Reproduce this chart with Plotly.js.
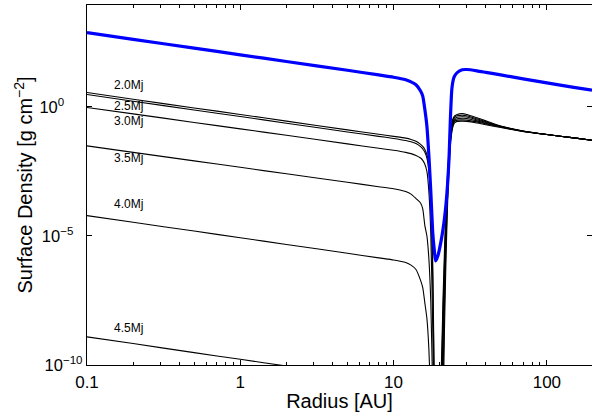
<!DOCTYPE html>
<html>
<head>
<meta charset="utf-8">
<script src="https://cdn.plot.ly/plotly-3.0.1.min.js"></script>
<style>html,body{margin:0;padding:0;background:#fff;}</style>
</head>
<body>
<div id="chart" style="width:592px;height:412px;"></div>
<script>
// Radius grid [AU]
const radius = [0.1, 0.2, 0.5, 1, 2, 5, 8, 10, 12, 13, 14, 15, 15.5, 16, 16.5, 17, 17.5, 18, 18.4, 18.8, 19.5, 20.4, 21, 21.5, 22, 22.5, 23, 23.5, 24, 24.5, 25, 26, 28, 30, 35, 40, 50, 70, 100, 150, 197];

// log10 of surface density [g cm^-2]
const logSigmaInitial = [2.88, 2.62, 2.28, 2.02, 1.76, 1.42, 1.24, 1.15, 1.05, 0.97, 0.86, 0.62, 0.42, -0.1, -0.75, -1.9, -3.3, -4.85, -5.5, -5.97, -5.75, -5.2, -4.75, -4.3, -3.75, -3.0, -2.0, -0.4, 0.7, 1.05, 1.2, 1.33, 1.44, 1.45, 1.40, 1.34, 1.24, 1.09, 0.93, 0.76, 0.65];
const logSigma2p0 = [0.56, 0.30, -0.04, -0.29, -0.55, -0.89, -1.06, -1.14, -1.21, -1.26, -1.33, -1.45, -1.53, -1.65, -1.85, -2.3, -3.4, -6.0, -10.3, -13, -13, -10.5, -7.5, -5.5, -3.8, -2.6, -1.6, -0.95, -0.6, -0.43, -0.35, -0.29, -0.26, -0.29, -0.42, -0.54, -0.74, -0.93, -1.07, -1.20, -1.29];
const logSigma2p5 = [0.48, 0.22, -0.12, -0.37, -0.63, -0.97, -1.14, -1.22, -1.30, -1.35, -1.42, -1.54, -1.63, -1.76, -1.98, -2.5, -3.7, -6.5, -10.8, -13, -13, -11, -8, -6, -4.1, -2.8, -1.75, -1.05, -0.67, -0.49, -0.4, -0.34, -0.32, -0.34, -0.46, -0.57, -0.75, -0.93, -1.07, -1.20, -1.29];
const logSigma3p0 = [-0.02, -0.27, -0.60, -0.85, -1.10, -1.43, -1.60, -1.68, -1.76, -1.81, -1.88, -1.98, -2.07, -2.22, -2.5, -3.3, -5.0, -8.5, -12, -13, -13, -12, -8.7, -6.4, -4.4, -3.0, -1.9, -1.15, -0.75, -0.55, -0.46, -0.4, -0.38, -0.39, -0.5, -0.6, -0.76, -0.94, -1.07, -1.20, -1.29];
const logSigma3p5 = [-1.51, -1.76, -2.09, -2.34, -2.59, -2.92, -3.09, -3.17, -3.28, -3.38, -3.55, -3.72, -3.95, -4.6, -5.0, -5.9, -7.6, -11, -13, -13, -13, -12.5, -9.3, -6.8, -4.7, -3.2, -2.0, -1.25, -0.82, -0.6, -0.51, -0.46, -0.44, -0.45, -0.54, -0.63, -0.77, -0.94, -1.07, -1.20, -1.29];
const logSigma4p0 = [-4.21, -4.47, -4.81, -5.07, -5.33, -5.67, -5.85, -5.93, -6.03, -6.13, -6.3, -6.72, -7.0, -7.6, -8.2, -9.4, -11.5, -13, -13, -13, -13, -13, -10.5, -7.6, -5.2, -3.5, -2.2, -1.35, -0.9, -0.66, -0.56, -0.51, -0.5, -0.51, -0.58, -0.66, -0.78, -0.95, -1.07, -1.20, -1.29];
const logSigma4p5 = [-8.91, -9.17, -9.52, -9.78, -10.04, -10.38, -10.6, -10.7, -10.8, -10.9, -11.0, -11.4, -11.7, -12.2, -12.8, -13.5, -14, -14, -14, -14, -14, -14, -12, -8.5, -5.8, -3.8, -2.4, -1.45, -0.97, -0.72, -0.62, -0.56, -0.55, -0.56, -0.62, -0.69, -0.8, -0.95, -1.07, -1.20, -1.29];

const massLabels = ["2.0Mj", "2.5Mj", "3.0Mj", "3.5Mj", "4.0Mj", "4.5Mj"];
const xTickVals = [0.1, 1, 10, 100];
const xTickText = ["0.1", "1", "10", "100"];
const yTickVals = [1e-10, 1e-5, 1];
const yTickText = ["10<sup>\u221210</sup>", "10<sup>\u22125</sup>\u00A0\u00A0", "10<sup>0</sup>\u00A0\u00A0\u00A0\u00A0"];

const pow = a => a.map(v => Math.pow(10, v));
const blackSeries = [logSigma2p0, logSigma2p5, logSigma3p0, logSigma3p5, logSigma4p0, logSigma4p5];

const traces = blackSeries.map((s, i) => ({
  x: radius, y: pow(s), type: 'scatter', mode: 'lines',
  name: massLabels[i], line: {color: '#000000', width: 1.1, shape: 'spline', smoothing: 0.6},
  hoverinfo: 'skip'
}));
traces.push({
  x: radius, y: pow(logSigmaInitial), type: 'scatter', mode: 'lines',
  name: 'initial', line: {color: '#0000ff', width: 3.2, shape: 'spline', smoothing: 0.6},
  hoverinfo: 'skip'
});

// label positions (log10 coordinates)
const labelY = [0.84, 0.04, -0.54, -1.99, -3.77, -8.58];
const annotations = massLabels.map((t, i) => ({
  x: Math.log10(0.146), y: labelY[i], xref: 'x', yref: 'y',
  text: t, showarrow: false, xanchor: 'left', yanchor: 'middle',
  font: {family: 'Liberation Sans, Arial, sans-serif', size: 12, color: '#000'}
}));

// minor x ticks
const minorX = [];
[0.1, 1, 10, 100].forEach(d => { for (let k = 2; k <= 9; k++) { const v = d * k; if (v <= 197) minorX.push(v); } });

const layout = {
  width: 592, height: 412,
  margin: {l: 87, r: 0, t: 5, b: 47, pad: 0},
  paper_bgcolor: '#fff', plot_bgcolor: '#fff',
  showlegend: false,
  font: {family: 'Liberation Sans, Arial, sans-serif', color: '#000', size: 17},
  xaxis: {
    type: 'log', range: [-1, Math.log10(197)],
    tickmode: 'array', tickvals: xTickVals, ticktext: xTickText,
    ticks: 'inside', ticklen: 5, tickwidth: 1, tickcolor: '#000',
    minor: {tickmode: 'array', tickvals: minorX, ticks: 'inside', ticklen: 3, tickwidth: 1, tickcolor: '#000', showgrid: false},
    showline: true, linecolor: '#000', linewidth: 1.2, mirror: 'ticks',
    showgrid: false, zeroline: false,
    tickfont: {size: 17}, ticklabelstandoff: 1,
    title: {text: 'Radius [AU]', font: {size: 20}, standoff: 1}
  },
  yaxis: {
    type: 'log', range: [-10, 3.95],
    tickmode: 'array', tickvals: yTickVals, ticktext: yTickText,
    ticks: 'inside', ticklen: 5, tickwidth: 1, tickcolor: '#000',
    showline: true, linecolor: '#000', linewidth: 1.2, mirror: 'ticks',
    showgrid: false, zeroline: false,
    tickfont: {size: 16.5}, ticklabelstandoff: 0,
    title: {text: 'Surface Density [g cm<sup>\u22122</sup>]', font: {size: 20}, standoff: 1}
  },
  annotations: annotations
};

Plotly.newPlot('chart', traces, layout, {staticPlot: true, displayModeBar: false});
</script>
</body>
</html>
